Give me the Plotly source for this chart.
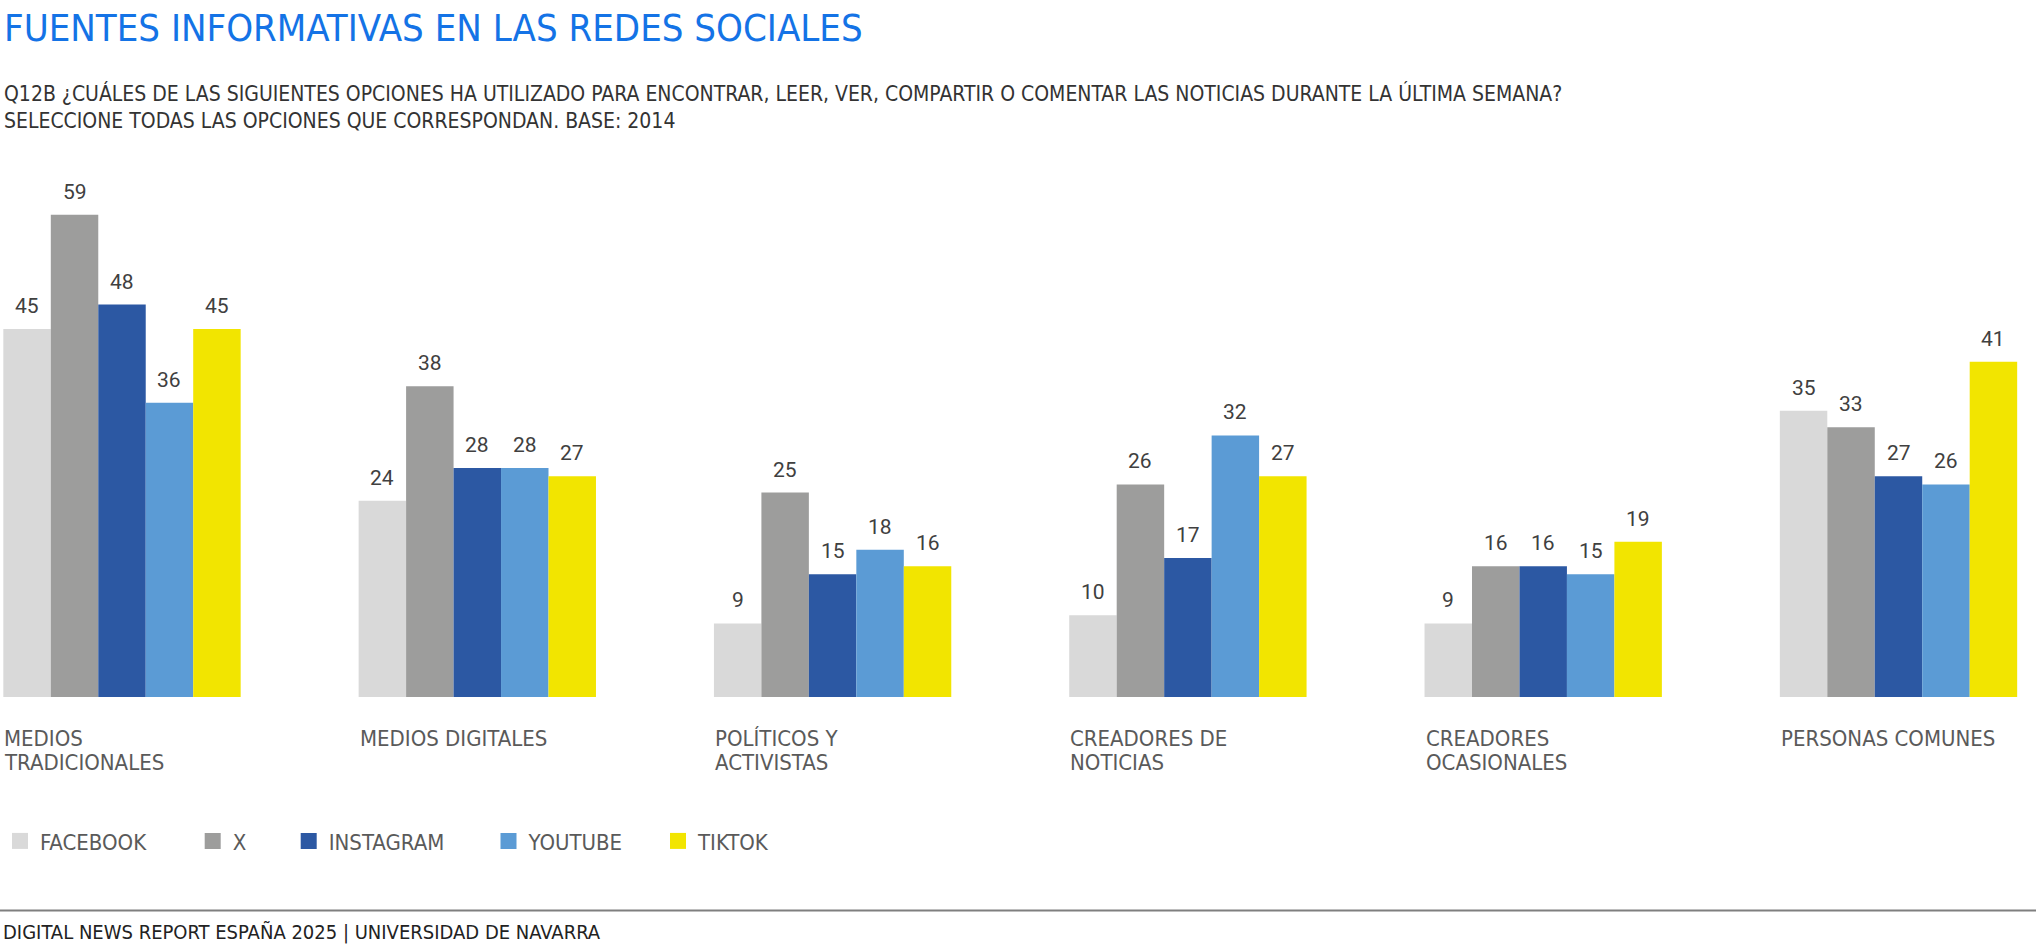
import plotly.graph_objects as go

# ---------------- data ----------------
categories = ["MEDIOS<br>TRADICIONALES", "MEDIOS DIGITALES", "POLÍTICOS Y<br>ACTIVISTAS",
              "CREADORES DE<br>NOTICIAS", "CREADORES<br>OCASIONALES", "PERSONAS COMUNES"]
series_names = ["FACEBOOK", "X", "INSTAGRAM", "YOUTUBE", "TIKTOK"]
facebook = [45, 24, 9, 10, 9, 35]
x_values = [59, 38, 25, 26, 16, 33]
instagram = [48, 28, 15, 17, 16, 27]
youtube = [36, 28, 18, 32, 15, 26]
tiktok = [45, 27, 16, 27, 19, 41]
series_values = [facebook, x_values, instagram, youtube, tiktok]
colors = ["#d9d9d9", "#9d9d9c", "#2c58a3", "#5b9bd5", "#f2e500"]

title_text = "FUENTES INFORMATIVAS EN LAS REDES SOCIALES"
subtitle_lines = [
    "Q12B ¿CUÁLES DE LAS SIGUIENTES OPCIONES HA UTILIZADO PARA ENCONTRAR, LEER, VER, COMPARTIR O COMENTAR LAS NOTICIAS DURANTE LA ÚLTIMA SEMANA?",
    "SELECCIONE TODAS LAS OPCIONES QUE CORRESPONDAN. BASE: 2014",
]
footer_text = "DIGITAL NEWS REPORT ESPAÑA 2025 | UNIVERSIDAD DE NAVARRA"

# ---------------- layout geometry (page pixels) ----------------
W, H = 2036, 952
PLOT_TOP, BASELINE = 166, 697.3
PX_PER_UNIT = 8.18
CAT0_CENTER, CAT_PITCH = 122.0, 355.3
T = PLOT_TOP
B = H - BASELINE
L, R = 0, 0
BARGAP = 0.332
NARROW = "Liberation Sans Narrow, DejaVu Sans Condensed, Arial Narrow, sans-serif"
NUMFONT = "Roboto, Arial, sans-serif"


def py(px):
    return (H - B - px) / (H - T - B)


def pxx(px):
    return (px - L) / (W - L - R)


fig = go.Figure()
for name, vals, color in zip(series_names, series_values, colors):
    fig.add_trace(go.Bar(x=categories, y=vals, name=name, marker_color=color,
                         marker_line_width=0, showlegend=False, hoverinfo="x+y+name"))

# legend proxies (one legend each, to reproduce the spacing)
legend_centers = [19.8, 212.7, 308.7, 508.5, 678.0]
layout_legends = {}
for j, (name, color) in enumerate(zip(series_names, colors)):
    key = "legend" if j == 0 else f"legend{j + 1}"
    fig.add_trace(go.Scatter(x=[None], y=[None], mode="markers", name=name,
                             marker=dict(symbol="square", size=18, color=color),
                             legend=key, showlegend=True))
    layout_legends[key] = dict(x=pxx(legend_centers[j] - 20), y=py(841.5), xanchor="left",
                               yanchor="middle", bgcolor="rgba(0,0,0,0)",
                               font=dict(family=NARROW, size=22, color="#5a5a5a"),
                               itemclick=False, itemdoubleclick=False)

annotations = []
nser = len(series_names)
bw = (1 - BARGAP) / nser
for j, vals in enumerate(series_values):
    off = -(1 - BARGAP) / 2 + (j + 0.5) * bw
    for i, v in enumerate(vals):
        annotations.append(dict(x=i + off, y=v, xref="x", yref="y", text=str(v),
                                showarrow=False, yanchor="bottom", yshift=9,
                                font=dict(family=NUMFONT, size=21, color="#404040")))

# category labels, left-aligned under each group
for i, cat in enumerate(categories):
    for k, line in enumerate(cat.split("<br>")):
        annotations.append(dict(x=i - (1 - BARGAP) / 2, y=0, xref="x", yref="y", text=line,
                                showarrow=False, xanchor="left", yanchor="middle",
                                yshift=-(41 + 24 * k), xshift=-1,
                                font=dict(family=NARROW, size=22, color="#5a5a5a")))

# title
annotations.append(dict(x=pxx(2), y=py(28), xref="paper", yref="paper", text=title_text,
                        showarrow=False, xanchor="left", yanchor="middle",
                        font=dict(family=NARROW, size=38, color="#1473e6")))

# subtitle lines
for k, line in enumerate(subtitle_lines):
    annotations.append(dict(x=pxx(2), y=py(93.5 + 27.3 * k), xref="paper", yref="paper", text=line,
                            showarrow=False, xanchor="left", yanchor="middle",
                            font=dict(family=NARROW, size=21, color="#333333")))

# footer
annotations.append(dict(x=pxx(1), y=py(932), xref="paper", yref="paper", text=footer_text,
                        showarrow=False, xanchor="left", yanchor="middle",
                        font=dict(family=NARROW, size=20, color="#222222")))

x_lo = (L - CAT0_CENTER) / CAT_PITCH
x_hi = (W - R - CAT0_CENTER) / CAT_PITCH

fig.update_layout(
    width=W, height=H,
    margin=dict(l=L, r=R, t=T, b=B, pad=0),
    paper_bgcolor="white", plot_bgcolor="white",
    barmode="group", bargap=BARGAP, bargroupgap=0,
    xaxis=dict(range=[x_lo, x_hi], showticklabels=False, showgrid=False,
               zeroline=False, showline=False, ticks=""),
    yaxis=dict(range=[0, (H - T - B) / PX_PER_UNIT], showticklabels=False, showgrid=False,
               zeroline=False, showline=False, ticks=""),
    annotations=annotations,
    shapes=[dict(type="line", xref="paper", yref="paper", x0=0, x1=1,
                 y0=py(911), y1=py(911), line=dict(color="#7f7f7f", width=2))],
    **layout_legends,
)

fig.write_html("out.html", config={"displayModeBar": False},
               post_script="document.body.style.margin='0';")
